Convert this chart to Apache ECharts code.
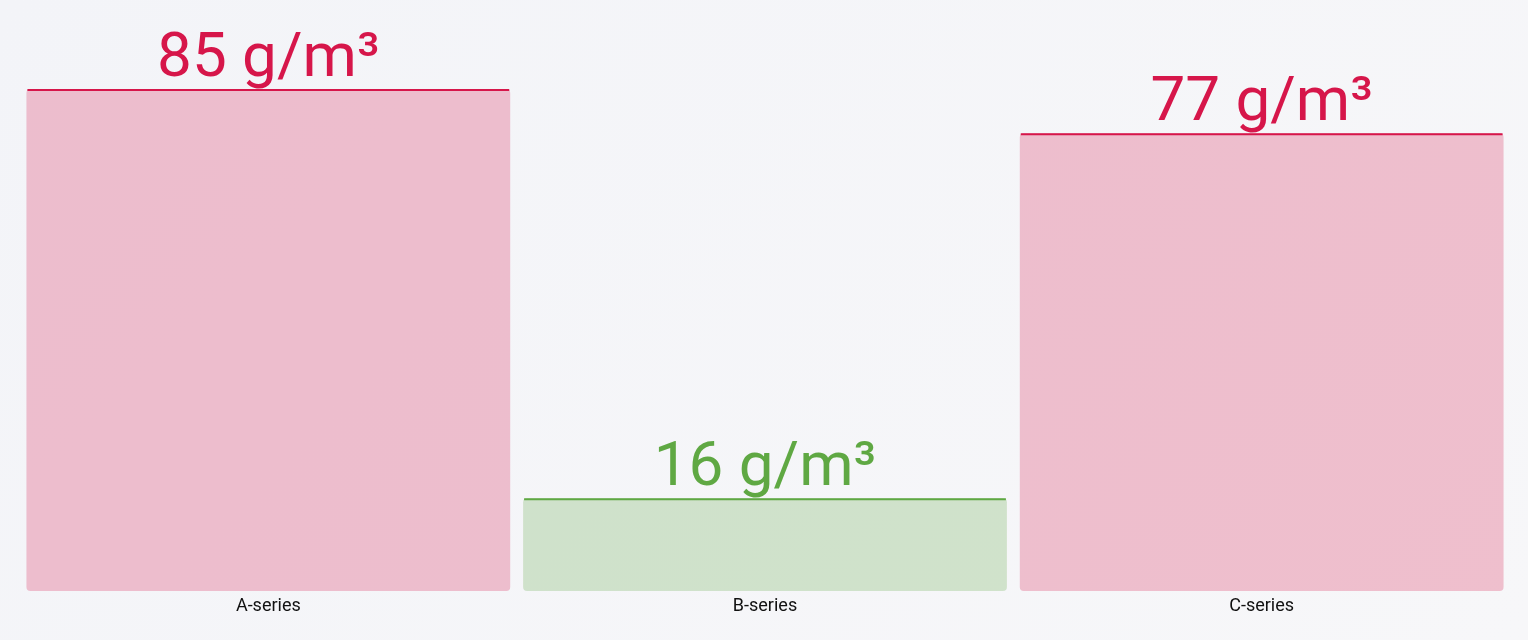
<!DOCTYPE html>
<html style="height: 100%">
<head>
    <meta charset="utf-8">
    <script src="https://cdn.jsdelivr.net/npm/echarts@6/dist/echarts.min.js"></script>
</head>
<body style="height: 100%; margin: 0; background: linear-gradient(135deg, #f3f4f8 0%, #f7f7f9 100%)">
<div id="container" style="height: 100%"></div>

<script type="text/javascript">
    var categories = ['A-series', 'B-series', 'C-series'];
    var values = [85, 15.7, 77.5];
    var labels = ['85', '16', '77'];
    var unit = ' g/m³';

    // colours per bar (line / fill)
    var lineColors = ['#d6164a', '#5fa843', '#d6164a'];
    var fillColors = ['rgba(214,22,74,0.25)', 'rgba(95,168,67,0.25)', 'rgba(214,22,74,0.25)'];

    var dom = document.getElementById("container");
    var myChart = echarts.init(dom, null, {renderer: 'canvas'});

    var barData = values.map(function (v, i) {
        return {
            value: v,
            itemStyle: {color: fillColors[i], borderRadius: 4},
            label: {color: lineColors[i]}
        };
    });
    var topData = values.map(function (v, i) {
        return {value: v, itemStyle: {color: lineColors[i]}};
    });

    var option = {
        backgroundColor: 'transparent',
        grid: {left: 20, right: 18, top: 89, bottom: 49, containLabel: false},
        xAxis: {
            type: 'category',
            data: categories,
            axisLine: {show: false},
            axisTick: {show: false},
            axisLabel: {
                color: '#111',
                fontFamily: 'Roboto',
                fontSize: 18,
                margin: 6
            }
        },
        yAxis: {
            type: 'value',
            min: 0,
            max: 85,
            show: false,
            splitLine: {show: false}
        },
        series: [
            {
                type: 'bar',
                barCategoryGap: '2.6%',
                data: barData,
                label: {
                    show: true,
                    position: 'top',
                    distance: -2,
                    fontFamily: 'Roboto',
                    fontSize: 62,
                    formatter: function (p) {
                        return labels[p.dataIndex] + unit;
                    }
                },
                z: 2
            },
            { // top edge line
                type: 'pictorialBar',
                symbol: 'rect',
                symbolSize: ['99.6%', 2],
                symbolPosition: 'end',
                barGap: '-100%',
                barCategoryGap: '2.6%',
                data: topData,
                z: 3,
                silent: true
            }
        ]
    };

    myChart.setOption(option);
</script>
</body>
</html>
